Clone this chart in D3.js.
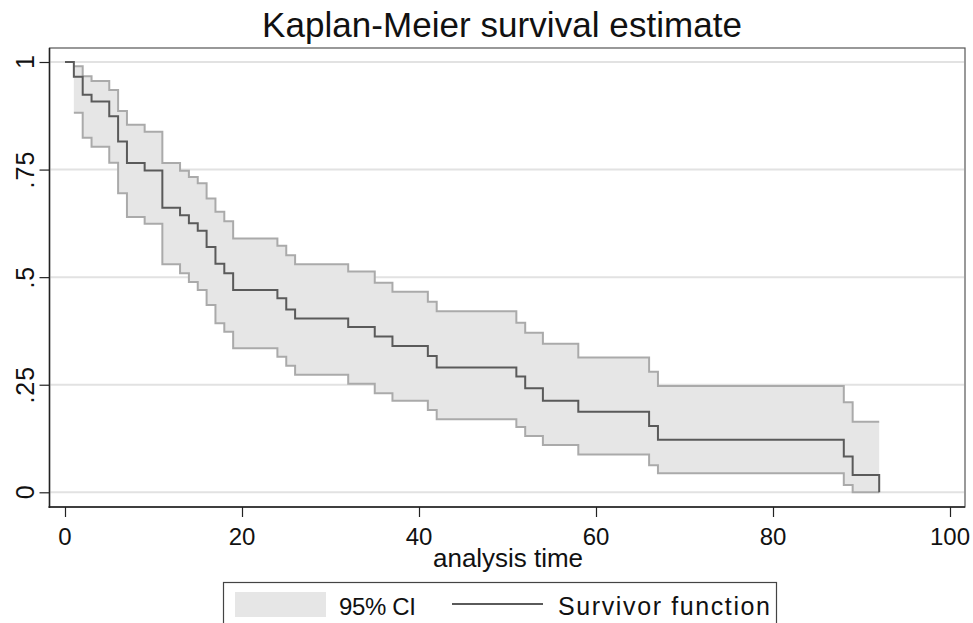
<!DOCTYPE html>
<html>
<head>
<meta charset="utf-8">
<script src="https://cdn.jsdelivr.net/npm/d3@7"></script>
<style>
  html, body { margin: 0; padding: 0; background: #fff; }
  svg { display: block; font-family: "Liberation Sans", Arial, sans-serif; }
</style>
</head>
<body>
<svg id="chart" width="973" height="623"></svg>
<script>
// ---- data ----
const times    = [0, 1, 2, 3, 5, 6, 7, 9, 11, 13, 14, 15, 16, 17, 18, 19, 24, 25, 26, 32, 35, 37, 41, 42, 51, 52, 54, 58, 66, 67, 88, 89, 92];
const survival = [1, .966, .924, .908, .874, .815, .765, .748, .661, .644, .625, .608, .570, .531, .509, .470, .451, .425, .404, .384, .362, .340, .317, .290, .269, .242, .213, .187, .154, .122, .083, .040, 0];
const lowerCI  = [null, .882, .824, .803, .766, .695, .640, .624, .530, .509, .489, .470, .435, .393, .373, .335, .315, .294, .273, .252, .230, .213, .191, .170, .152, .131, .110, .088, .063, .044, .017, 0, null];
const upperCI  = [null, .990, .967, .956, .935, .886, .854, .838, .765, .747, .733, .718, .683, .652, .630, .590, .573, .551, .530, .513, .487, .466, .443, .421, .394, .371, .345, .313, .280, .247, .209, .164, null];

const xTicks = [0, 20, 40, 60, 80, 100];
const yTicks = [0, 0.25, 0.5, 0.75, 1];
const yTickLabels = ["0", ".25", ".5", ".75", "1"];

const titleText = "Kaplan-Meier survival estimate";
const xTitle = "analysis time";
const legendLabels = ["95% CI", "Survivor function"];

// ---- layout ----
const svg = d3.select("#chart");
const frame = { left: 49.5, right: 965, top: 48, bottom: 507 };
const x = d3.scaleLinear().domain([0, 100]).range([65, 950]);
const y = d3.scaleLinear().domain([0, 1]).range([492.3, 62]);
const FONT = 24;

// gridlines
svg.append("g").selectAll("line").data(yTicks).join("line")
  .attr("x1", frame.left + 1).attr("x2", frame.right - 1)
  .attr("y1", d => y(d)).attr("y2", d => y(d))
  .attr("stroke", "#e2e2e2").attr("stroke-width", 2);

// CI data (from first event to last time)
const ci = [];
for (let i = 0; i < times.length; i++) {
  if (lowerCI[i] !== null && upperCI[i] !== null) ci.push({ t: times[i], lo: lowerCI[i], hi: upperCI[i] });
}
const lastCI = ci[ci.length - 1];
ci.push({ t: times[times.length - 1], lo: lastCI.lo, hi: lastCI.hi });

svg.append("path").datum(ci)
  .attr("d", d3.area().curve(d3.curveStepAfter).x(d => x(d.t)).y0(d => y(d.lo)).y1(d => y(d.hi)))
  .attr("fill", "#e6e6e6").attr("stroke", "none");

const ciLine = key => d3.line().curve(d3.curveStepAfter).x(d => x(d.t)).y(d => y(d[key]));
svg.append("path").datum(ci).attr("d", ciLine("hi"))
  .attr("fill", "none").attr("stroke", "#aaaaaa").attr("stroke-width", 2);
svg.append("path").datum(ci).attr("d", ciLine("lo"))
  .attr("fill", "none").attr("stroke", "#aaaaaa").attr("stroke-width", 2);

// survivor function
const km = times.map((t, i) => ({ t, s: survival[i] }));
svg.append("path").datum(km)
  .attr("d", d3.line().curve(d3.curveStepAfter).x(d => x(d.t)).y(d => y(d.s)))
  .attr("fill", "none").attr("stroke", "#5a5a5a").attr("stroke-width", 2);

// frame
svg.append("rect")
  .attr("x", frame.left).attr("y", frame.top)
  .attr("width", frame.right - frame.left).attr("height", frame.bottom - frame.top)
  .attr("fill", "none").attr("stroke", "#555").attr("stroke-width", 1.2);

// axes
const yAxis = svg.append("g").attr("transform", `translate(${frame.left},0)`)
  .call(d3.axisLeft(y).tickValues(yTicks).tickSize(10).tickFormat(""));
const xAxis = svg.append("g").attr("transform", `translate(0,${frame.bottom})`)
  .call(d3.axisBottom(x).tickValues(xTicks).tickSize(10).tickFormat(""));
[yAxis, xAxis].forEach(a => {
  a.select(".domain").remove();
  a.selectAll(".tick line").attr("stroke", "#222").attr("stroke-width", 1.2);
});
// axis lines along the frame
svg.append("line").attr("x1", frame.left).attr("x2", frame.left)
  .attr("y1", frame.top).attr("y2", frame.bottom + 1).attr("stroke", "#222").attr("stroke-width", 1.5);
svg.append("line").attr("x1", frame.left - 1).attr("x2", frame.right)
  .attr("y1", frame.bottom).attr("y2", frame.bottom).attr("stroke", "#222").attr("stroke-width", 1.5);

// y tick labels (rotated)
svg.append("g").selectAll("text").data(yTicks).join("text")
  .attr("transform", d => `translate(34,${y(d)}) rotate(-90)`)
  .attr("text-anchor", "middle")
  .attr("font-size", 25).attr("fill", "#111")
  .attr("letter-spacing", (d, i) => yTickLabels[i].length > 1 ? 1 : 0)
  .text((d, i) => yTickLabels[i]);

// x tick labels
svg.append("g").selectAll("text").data(xTicks).join("text")
  .attr("x", d => x(d)).attr("y", 545)
  .attr("text-anchor", "middle")
  .attr("font-size", FONT).attr("fill", "#111")
  .text(d => d);

// x title
svg.append("text").attr("x", 508).attr("y", 567)
  .attr("text-anchor", "middle").attr("font-size", 26).attr("fill", "#111")
  .attr("textLength", 150).attr("lengthAdjust", "spacing")
  .text(xTitle);

// title
svg.append("text").attr("x", 502).attr("y", 37)
  .attr("text-anchor", "middle").attr("font-size", 35).attr("fill", "#111")
  .attr("textLength", 480).attr("lengthAdjust", "spacing")
  .text(titleText);

// legend
const lg = svg.append("g");
lg.append("rect").attr("x", 223.5).attr("y", 582.5).attr("width", 553).attr("height", 60)
  .attr("fill", "#fff").attr("stroke", "#444").attr("stroke-width", 1.2);
lg.append("rect").attr("x", 235).attr("y", 592).attr("width", 91).attr("height", 25)
  .attr("fill", "#e6e6e6");
lg.append("text").attr("x", 339).attr("y", 615).attr("font-size", FONT).attr("fill", "#111")
  .attr("textLength", 77).attr("lengthAdjust", "spacing")
  .text(legendLabels[0]);
lg.append("line").attr("x1", 452).attr("x2", 543).attr("y1", 604).attr("y2", 604)
  .attr("stroke", "#5a5a5a").attr("stroke-width", 2);
lg.append("text").attr("x", 558).attr("y", 615).attr("font-size", 25).attr("fill", "#111")
  .attr("textLength", 212).attr("lengthAdjust", "spacing")
  .text(legendLabels[1]);
</script>
</body>
</html>
